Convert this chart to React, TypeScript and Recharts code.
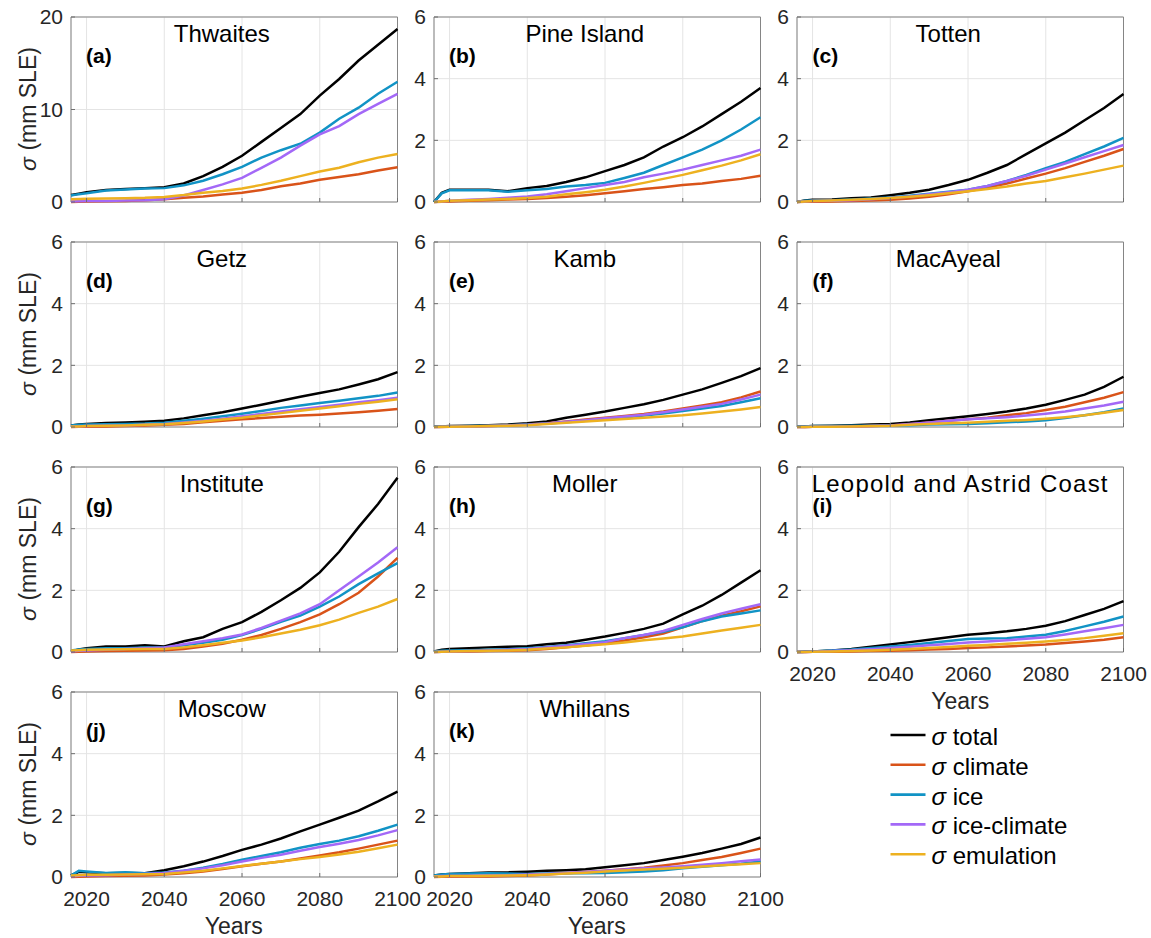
import React from 'react';
import { LineChart, Line, XAxis, YAxis, CartesianGrid, ReferenceArea } from 'recharts';

const YEARS = [2016, 2018, 2020, 2025, 2030, 2035, 2040, 2045, 2050, 2055, 2060, 2065, 2070, 2075, 2080, 2085, 2090, 2095, 2100];
const X_TICKS = [2020, 2040, 2060, 2080, 2100];
const Y_TICKS_BIG = [0, 10, 20];
const Y_TICKS_SMALL = [0, 2, 4, 6];

const SERIES = [
  { key: 'total', label: 'total', color: '#000000' },
  { key: 'climate', label: 'climate', color: '#D95319' },
  { key: 'ice', label: 'ice', color: '#1193C5' },
  { key: 'iceClimate', label: 'ice-climate', color: '#A368F7' },
  { key: 'emulation', label: 'emulation', color: '#EDB120' },
];

const THWAITES = {
  total: [0.75, 0.9, 1.05, 1.3, 1.4, 1.5, 1.6, 2.0, 2.8, 3.8, 5.0, 6.5, 8.0, 9.5, 11.5, 13.3, 15.3, 17.0, 18.7],
  climate: [0.0, 0.02, 0.05, 0.08, 0.1, 0.18, 0.3, 0.45, 0.6, 0.8, 1.0, 1.3, 1.7, 2.0, 2.4, 2.7, 3.0, 3.4, 3.75],
  ice: [0.7, 0.85, 0.95, 1.25, 1.35, 1.45, 1.5, 1.8, 2.3, 3.0, 3.8, 4.8, 5.6, 6.3, 7.5, 9.0, 10.2, 11.7, 13.0],
  iceClimate: [0.05, 0.07, 0.1, 0.12, 0.15, 0.2, 0.3, 0.7, 1.3, 1.9, 2.6, 3.7, 4.8, 6.1, 7.3, 8.2, 9.5, 10.6, 11.7],
  emulation: [0.3, 0.32, 0.35, 0.38, 0.4, 0.45, 0.55, 0.75, 1.0, 1.2, 1.45, 1.85, 2.3, 2.8, 3.3, 3.7, 4.3, 4.8, 5.2],
};
const PINE_ISLAND = {
  total: [0.0, 0.3, 0.4, 0.4, 0.4, 0.35, 0.45, 0.52, 0.65, 0.8, 1.0, 1.2, 1.45, 1.8, 2.1, 2.45, 2.85, 3.25, 3.7],
  climate: [0, 0.01, 0.02, 0.04, 0.06, 0.08, 0.1, 0.13, 0.17, 0.22, 0.28, 0.35, 0.42, 0.48, 0.55, 0.6, 0.68, 0.75, 0.85],
  ice: [0, 0.28, 0.38, 0.38, 0.38, 0.33, 0.38, 0.42, 0.5, 0.55, 0.62, 0.78, 0.95, 1.2, 1.45, 1.7, 2.0, 2.35, 2.75],
  iceClimate: [0, 0.02, 0.04, 0.07, 0.1, 0.14, 0.18, 0.25, 0.35, 0.45, 0.55, 0.65, 0.8, 0.92, 1.05, 1.2, 1.35, 1.5, 1.7],
  emulation: [0, 0.02, 0.04, 0.06, 0.08, 0.1, 0.13, 0.17, 0.25, 0.32, 0.4, 0.5, 0.62, 0.75, 0.88, 1.03, 1.18, 1.35, 1.55],
};
const TOTTEN = {
  total: [0, 0.05, 0.07, 0.08, 0.12, 0.15, 0.22, 0.3, 0.4, 0.55, 0.72, 0.95, 1.2, 1.55, 1.9, 2.25, 2.65, 3.05, 3.5],
  climate: [0, 0.005, 0.01, 0.02, 0.03, 0.05, 0.07, 0.11, 0.17, 0.25, 0.35, 0.47, 0.6, 0.76, 0.92, 1.1, 1.3, 1.5, 1.72],
  ice: [0, 0.04, 0.05, 0.06, 0.08, 0.11, 0.15, 0.2, 0.27, 0.33, 0.4, 0.52, 0.68, 0.88, 1.1, 1.3, 1.55, 1.8, 2.08],
  iceClimate: [0, 0.02, 0.03, 0.04, 0.06, 0.09, 0.13, 0.18, 0.25, 0.32, 0.4, 0.52, 0.68, 0.85, 1.05, 1.25, 1.45, 1.65, 1.85],
  emulation: [0, 0.02, 0.03, 0.05, 0.07, 0.1, 0.13, 0.17, 0.22, 0.28, 0.35, 0.42, 0.5, 0.6, 0.68, 0.8, 0.92, 1.05, 1.18],
};
const GETZ = {
  total: [0.05, 0.08, 0.1, 0.13, 0.15, 0.17, 0.2, 0.28, 0.38, 0.48, 0.6, 0.72, 0.85, 0.98, 1.1, 1.22, 1.38, 1.55, 1.78],
  climate: [0, 0.005, 0.01, 0.02, 0.03, 0.05, 0.07, 0.1, 0.15, 0.2, 0.25, 0.29, 0.33, 0.37, 0.4, 0.44, 0.48, 0.53, 0.58],
  ice: [0.05, 0.07, 0.08, 0.09, 0.1, 0.11, 0.14, 0.2, 0.27, 0.35, 0.43, 0.52, 0.62, 0.7, 0.78, 0.85, 0.93, 1.01, 1.12],
  iceClimate: [0.02, 0.02, 0.03, 0.04, 0.05, 0.07, 0.1, 0.15, 0.2, 0.27, 0.35, 0.42, 0.5, 0.58, 0.65, 0.72, 0.8, 0.87, 0.95],
  emulation: [0.02, 0.02, 0.03, 0.04, 0.05, 0.07, 0.09, 0.13, 0.18, 0.24, 0.3, 0.38, 0.45, 0.53, 0.6, 0.67, 0.75, 0.82, 0.9],
};
const KAMB = {
  total: [0.02, 0.02, 0.03, 0.04, 0.06, 0.08, 0.12, 0.18, 0.3, 0.4, 0.5, 0.62, 0.74, 0.88, 1.05, 1.22, 1.43, 1.65, 1.91],
  climate: [0, 0, 0.01, 0.02, 0.03, 0.05, 0.08, 0.12, 0.18, 0.24, 0.3, 0.36, 0.42, 0.5, 0.6, 0.7, 0.8, 0.96, 1.15],
  ice: [0.02, 0.02, 0.02, 0.03, 0.04, 0.06, 0.08, 0.11, 0.15, 0.2, 0.25, 0.31, 0.37, 0.44, 0.52, 0.6, 0.68, 0.8, 0.93],
  iceClimate: [0, 0.01, 0.01, 0.02, 0.03, 0.05, 0.07, 0.11, 0.17, 0.22, 0.28, 0.34, 0.4, 0.48, 0.57, 0.66, 0.75, 0.89, 1.05],
  emulation: [0, 0.01, 0.01, 0.02, 0.03, 0.04, 0.06, 0.1, 0.14, 0.18, 0.22, 0.26, 0.3, 0.34, 0.38, 0.44, 0.5, 0.57, 0.65],
};
const MACAYEAL = {
  total: [0.02, 0.02, 0.03, 0.04, 0.06, 0.08, 0.1, 0.15, 0.22, 0.28, 0.35, 0.42, 0.5, 0.6, 0.72, 0.88, 1.05, 1.3, 1.63],
  climate: [0, 0, 0.01, 0.01, 0.02, 0.03, 0.05, 0.09, 0.15, 0.2, 0.25, 0.3, 0.38, 0.45, 0.55, 0.66, 0.8, 0.95, 1.13],
  ice: [0.02, 0.02, 0.03, 0.03, 0.04, 0.04, 0.05, 0.06, 0.08, 0.09, 0.1, 0.12, 0.15, 0.18, 0.22, 0.29, 0.38, 0.48, 0.6],
  iceClimate: [0, 0, 0.01, 0.01, 0.02, 0.03, 0.05, 0.1, 0.15, 0.2, 0.25, 0.28, 0.32, 0.37, 0.43, 0.5, 0.6, 0.7, 0.82],
  emulation: [0, 0, 0.01, 0.01, 0.02, 0.03, 0.04, 0.07, 0.1, 0.12, 0.14, 0.17, 0.2, 0.23, 0.27, 0.32, 0.38, 0.46, 0.55],
};
const INSTITUTE = {
  total: [0.02, 0.08, 0.12, 0.18, 0.18, 0.22, 0.18, 0.35, 0.48, 0.75, 0.97, 1.3, 1.68, 2.08, 2.58, 3.25, 4.05, 4.8, 5.65],
  climate: [0, 0.01, 0.02, 0.03, 0.04, 0.05, 0.06, 0.1, 0.18, 0.27, 0.4, 0.55, 0.75, 0.97, 1.22, 1.55, 1.92, 2.45, 3.05],
  ice: [0.05, 0.08, 0.1, 0.12, 0.12, 0.15, 0.15, 0.22, 0.3, 0.4, 0.55, 0.75, 0.98, 1.18, 1.47, 1.8, 2.2, 2.55, 2.88],
  iceClimate: [0.02, 0.04, 0.05, 0.07, 0.1, 0.12, 0.15, 0.25, 0.35, 0.45, 0.57, 0.78, 1.02, 1.25, 1.55, 2.0, 2.45, 2.9, 3.4],
  emulation: [0.05, 0.06, 0.07, 0.08, 0.09, 0.1, 0.1, 0.15, 0.22, 0.3, 0.37, 0.48, 0.6, 0.72, 0.87, 1.05, 1.27, 1.47, 1.72],
};
const MOLLER = {
  total: [0.02, 0.07, 0.1, 0.12, 0.15, 0.17, 0.19, 0.25, 0.3, 0.4, 0.5, 0.62, 0.75, 0.92, 1.22, 1.5, 1.85, 2.25, 2.65],
  climate: [0, 0.005, 0.01, 0.02, 0.03, 0.04, 0.06, 0.1, 0.15, 0.21, 0.28, 0.37, 0.48, 0.6, 0.8, 1.0, 1.18, 1.32, 1.48],
  ice: [0.02, 0.04, 0.05, 0.06, 0.07, 0.09, 0.12, 0.16, 0.22, 0.28, 0.35, 0.45, 0.55, 0.66, 0.8, 1.0, 1.15, 1.25, 1.35],
  iceClimate: [0, 0.01, 0.02, 0.03, 0.05, 0.07, 0.1, 0.15, 0.2, 0.26, 0.32, 0.45, 0.55, 0.68, 0.88, 1.07, 1.25, 1.4, 1.55],
  emulation: [0, 0.01, 0.02, 0.03, 0.04, 0.05, 0.07, 0.11, 0.15, 0.2, 0.25, 0.31, 0.38, 0.44, 0.5, 0.6, 0.7, 0.79, 0.88],
};
const LEOPOLD = {
  total: [0, 0.01, 0.02, 0.05, 0.1, 0.17, 0.24, 0.32, 0.4, 0.48, 0.56, 0.61, 0.67, 0.75, 0.85, 1.0, 1.2, 1.4, 1.65],
  climate: [0, 0, 0.005, 0.01, 0.02, 0.03, 0.04, 0.06, 0.08, 0.1, 0.13, 0.15, 0.18, 0.21, 0.24, 0.29, 0.34, 0.4, 0.48],
  ice: [0, 0.01, 0.02, 0.05, 0.08, 0.13, 0.18, 0.23, 0.29, 0.36, 0.42, 0.44, 0.45, 0.5, 0.56, 0.68, 0.83, 0.98, 1.15],
  iceClimate: [0, 0, 0.01, 0.03, 0.06, 0.09, 0.13, 0.17, 0.22, 0.26, 0.31, 0.34, 0.38, 0.43, 0.48, 0.57, 0.67, 0.77, 0.88],
  emulation: [0, 0, 0.01, 0.02, 0.03, 0.05, 0.07, 0.1, 0.13, 0.16, 0.2, 0.23, 0.27, 0.3, 0.34, 0.39, 0.45, 0.53, 0.61],
};
const MOSCOW = {
  total: [0.05, 0.17, 0.15, 0.12, 0.13, 0.12, 0.22, 0.35, 0.5, 0.68, 0.88, 1.05, 1.25, 1.48, 1.7, 1.92, 2.15, 2.45, 2.77],
  climate: [0, 0.01, 0.02, 0.03, 0.04, 0.05, 0.08, 0.12, 0.18, 0.26, 0.35, 0.43, 0.5, 0.6, 0.7, 0.8, 0.92, 1.05, 1.18],
  ice: [0.05, 0.2, 0.18, 0.13, 0.15, 0.12, 0.15, 0.2, 0.3, 0.42, 0.56, 0.68, 0.8, 0.95, 1.07, 1.18, 1.32, 1.5, 1.7],
  iceClimate: [0.02, 0.04, 0.05, 0.06, 0.08, 0.1, 0.13, 0.2, 0.28, 0.38, 0.5, 0.62, 0.72, 0.85, 0.97, 1.08, 1.2, 1.35, 1.52],
  emulation: [0.05, 0.06, 0.07, 0.07, 0.08, 0.09, 0.1, 0.15, 0.2, 0.28, 0.36, 0.43, 0.5, 0.58, 0.65, 0.73, 0.82, 0.93, 1.05],
};
const WHILLANS = {
  total: [0.05, 0.08, 0.1, 0.12, 0.15, 0.15, 0.17, 0.2, 0.22, 0.25, 0.32, 0.38, 0.45, 0.55, 0.66, 0.78, 0.92, 1.07, 1.28],
  climate: [0, 0.005, 0.01, 0.015, 0.02, 0.03, 0.05, 0.08, 0.12, 0.16, 0.2, 0.25, 0.3, 0.37, 0.45, 0.55, 0.65, 0.78, 0.92],
  ice: [0.05, 0.08, 0.1, 0.11, 0.12, 0.11, 0.1, 0.11, 0.12, 0.12, 0.13, 0.15, 0.18, 0.22, 0.28, 0.33, 0.38, 0.43, 0.5],
  iceClimate: [0.02, 0.03, 0.03, 0.04, 0.05, 0.06, 0.08, 0.1, 0.13, 0.16, 0.2, 0.24, 0.28, 0.31, 0.35, 0.4, 0.45, 0.51, 0.57],
  emulation: [0.02, 0.02, 0.03, 0.03, 0.04, 0.05, 0.06, 0.08, 0.11, 0.14, 0.18, 0.21, 0.24, 0.27, 0.3, 0.34, 0.38, 0.41, 0.45],
};

const PANELS = [
  { title: 'Thwaites', tag: '(a)', values: THWAITES, row: 0, col: 0, yMax: 20, yTicks: Y_TICKS_BIG, xLabels: false, titleDx: -12, spacing: 0 },
  { title: 'Pine Island', tag: '(b)', values: PINE_ISLAND, row: 0, col: 1, yMax: 6, yTicks: Y_TICKS_SMALL, xLabels: false, titleDx: -12, spacing: 0 },
  { title: 'Totten', tag: '(c)', values: TOTTEN, row: 0, col: 2, yMax: 6, yTicks: Y_TICKS_SMALL, xLabels: false, titleDx: -12, spacing: 0 },
  { title: 'Getz', tag: '(d)', values: GETZ, row: 1, col: 0, yMax: 6, yTicks: Y_TICKS_SMALL, xLabels: false, titleDx: -12, spacing: 0 },
  { title: 'Kamb', tag: '(e)', values: KAMB, row: 1, col: 1, yMax: 6, yTicks: Y_TICKS_SMALL, xLabels: false, titleDx: -12, spacing: 0 },
  { title: 'MacAyeal', tag: '(f)', values: MACAYEAL, row: 1, col: 2, yMax: 6, yTicks: Y_TICKS_SMALL, xLabels: false, titleDx: -12, spacing: 0 },
  { title: 'Institute', tag: '(g)', values: INSTITUTE, row: 2, col: 0, yMax: 6, yTicks: Y_TICKS_SMALL, xLabels: false, titleDx: -12, spacing: 0 },
  { title: 'Moller', tag: '(h)', values: MOLLER, row: 2, col: 1, yMax: 6, yTicks: Y_TICKS_SMALL, xLabels: false, titleDx: -12, spacing: 0 },
  { title: 'Leopold and Astrid Coast', tag: '(i)', values: LEOPOLD, row: 2, col: 2, yMax: 6, yTicks: Y_TICKS_SMALL, xLabels: true, titleDx: 0, spacing: 1.2 },
  { title: 'Moscow', tag: '(j)', values: MOSCOW, row: 3, col: 0, yMax: 6, yTicks: Y_TICKS_SMALL, xLabels: true, titleDx: -12, spacing: 0 },
  { title: 'Whillans', tag: '(k)', values: WHILLANS, row: 3, col: 1, yMax: 6, yTicks: Y_TICKS_SMALL, xLabels: true, titleDx: -12, spacing: 0 },
];

const COL_X = [70.5, 433.5, 797];
const ROW_Y = [16.5, 241.5, 466.5, 691.5];
const PLOT_W = 326.5;
const PLOT_H = 185;
const AXIS_W = 70;
const TOP_PAD = 16;
const RIGHT_PAD = 26;
const X_AXIS_H = 40;
const FONT = '"Liberation Sans", Arial, Helvetica, sans-serif';
const TEXT_COLOR = '#262626';
const TICK_LEN = 4;

function buildRows(values) {
  return YEARS.map((year, i) => {
    const row = { year };
    SERIES.forEach((s) => {
      row[s.key] = values[s.key][i];
    });
    return row;
  });
}

const emptyLabel = () => '';

function Panel({ p }) {
  const data = buildRows(p.values);
  const left = COL_X[p.col] - AXIS_W;
  const top = ROW_Y[p.row] - TOP_PAD;
  const width = AXIS_W + PLOT_W + RIGHT_PAD;
  const height = TOP_PAD + PLOT_H + X_AXIS_H;
  return (
    <div style={{ position: 'absolute', left, top, width, height }}>
      <LineChart width={width} height={height} data={data} margin={{ top: TOP_PAD, right: RIGHT_PAD, left: 0, bottom: 0 }}>
        <CartesianGrid stroke="#e4e4e4" strokeWidth={1} />
        <XAxis
          dataKey="year"
          type="number"
          domain={[2016, 2100]}
          ticks={X_TICKS}
          height={X_AXIS_H}
          axisLine={false}
          tickLine={{ stroke: '#6f6f6f', strokeWidth: 1 }}
          tickSize={-TICK_LEN}
          tickMargin={14 + TICK_LEN}
          interval={0}
          tickFormatter={p.xLabels ? undefined : emptyLabel}
          tick={{ fontSize: 21, fill: TEXT_COLOR, fontFamily: FONT }}
        />
        <YAxis
          type="number"
          domain={[0, p.yMax]}
          ticks={p.yTicks}
          width={AXIS_W}
          axisLine={false}
          tickLine={{ stroke: '#6f6f6f', strokeWidth: 1 }}
          tickSize={-TICK_LEN}
          tickMargin={8 + TICK_LEN}
          interval={0}
          tick={{ fontSize: 21, fill: TEXT_COLOR, fontFamily: FONT }}
        />
        <ReferenceArea x1={2016} x2={2100} y1={0} y2={p.yMax} fill="none" stroke="#858585" strokeWidth={1} fillOpacity={0} />
        {SERIES.map((s) => (
          <Line
            key={s.key}
            type="linear"
            dataKey={s.key}
            stroke={s.color}
            strokeWidth={2.5}
            dot={false}
            activeDot={false}
            isAnimationActive={false}
          />
        ))}
      </LineChart>
    </div>
  );
}

function Overlay() {
  return (
    <svg width={1151} height={938} style={{ position: 'absolute', left: 0, top: 0, pointerEvents: 'none' }} fontFamily={FONT}>
      {PANELS.map((p) => {
        const x0 = COL_X[p.col];
        const y0 = ROW_Y[p.row];
        return (
          <g key={p.tag}>
            <text
              x={x0 + PLOT_W / 2 + p.titleDx}
              y={y0 + 25}
              fontSize={24}
              textAnchor="middle"
              fill="#000"
              letterSpacing={p.spacing}
            >
              {p.title}
            </text>
            <text x={x0 + 15.5} y={y0 + 46} fontSize={21} fontWeight="bold" fill="#000">
              {p.tag}
            </text>
            {p.col === 0 && (
              <text
                x={x0 - 35}
                y={y0 + PLOT_H / 2}
                fontSize={23}
                textAnchor="middle"
                fill={TEXT_COLOR}
                transform={`rotate(-90 ${x0 - 35} ${y0 + PLOT_H / 2})`}
              >
                <tspan fontStyle="italic">σ</tspan> (mm SLE)
              </text>
            )}
            {p.xLabels && (
              <text x={x0 + PLOT_W / 2} y={y0 + PLOT_H + 57} fontSize={23} textAnchor="middle" fill={TEXT_COLOR}>
                Years
              </text>
            )}
          </g>
        );
      })}
      {SERIES.map((s, i) => {
        const ly = 735 + i * 29.8;
        return (
          <g key={s.key}>
            <line x1={890.5} x2={925.5} y1={ly} y2={ly} stroke={s.color} strokeWidth={2.6} />
            <text x={931.5} y={ly + 10} fontSize={24} fill="#000">
              <tspan fontStyle="italic">σ</tspan> {s.label}
            </text>
          </g>
        );
      })}
    </svg>
  );
}

export default function App() {
  return (
    <div style={{ position: 'absolute', left: 0, top: 0, width: 1151, height: 938, background: '#fff' }}>
      {PANELS.map((p) => (
        <Panel key={p.tag} p={p} />
      ))}
      <Overlay />
    </div>
  );
}
